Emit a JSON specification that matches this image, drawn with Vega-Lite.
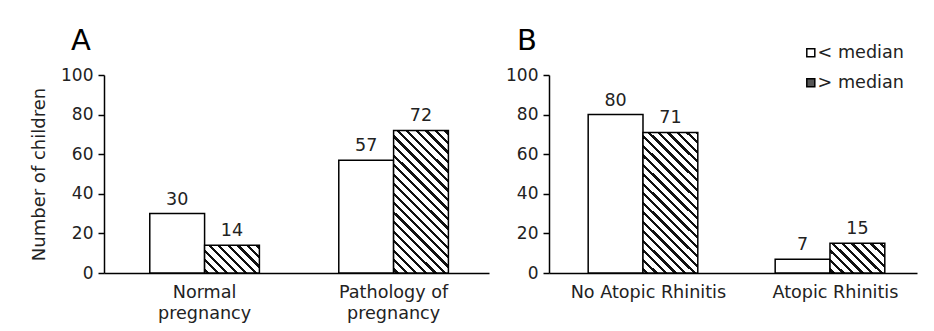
{
  "$schema": "https://vega.github.io/schema/vega-lite/v6.json",
  "background": "white",
  "padding": {"left": 30, "top": 27, "right": 5, "bottom": 5},
  "datasets": {
    "counts": [
      {"panel": "A", "category": "Normal pregnancy", "group": "< median", "n": 30},
      {"panel": "A", "category": "Normal pregnancy", "group": "> median", "n": 14},
      {"panel": "A", "category": "Pathology of pregnancy", "group": "< median", "n": 57},
      {"panel": "A", "category": "Pathology of pregnancy", "group": "> median", "n": 72},
      {"panel": "B", "category": "No Atopic Rhinitis", "group": "< median", "n": 80},
      {"panel": "B", "category": "No Atopic Rhinitis", "group": "> median", "n": 71},
      {"panel": "B", "category": "Atopic Rhinitis", "group": "< median", "n": 7},
      {"panel": "B", "category": "Atopic Rhinitis", "group": "> median", "n": 15}
    ]
  },
  "config": {
    "font": "DejaVu Sans",
    "view": {"stroke": null},
    "axis": {
      "domainColor": "black", "domainWidth": 1.5,
      "tickColor": "black", "tickWidth": 1.5, "tickSize": 6,
      "labelFontSize": 17, "labelColor": "#222", "labelPadding": 5,
      "grid": false,
      "titleFontSize": 18, "titleFontWeight": "normal", "titleColor": "#222", "titlePadding": 12
    },
    "axisX": {"ticks": false, "labelPadding": 10, "labelLineHeight": 21, "labelAngle": 0, "labelFontSize": 17.6},
    "legend": {
      "title": null, "orient": "none", "legendX": 698, "legendY": -31,
      "symbolType": "square", "symbolSize": 64, "symbolStrokeColor": "black", "symbolStrokeWidth": 1.5,
      "labelFontSize": 17.6, "labelColor": "#222", "labelOffset": -2, "rowPadding": 11, "padding": 0
    },
    "title": {"fontSize": 29, "fontWeight": "normal", "anchor": "start", "frame": "group", "dx": -33, "color": "black", "offset": 10}
  },
  "spacing": 16,
  "hconcat": [
    {
      "width": 385,
      "height": 198,
      "title": {"text": "A"},
      "data": {"name": "counts"},
      "transform": [{"filter": "datum.panel === 'A'"}],
      "encoding": {
        "x": {"field": "category", "type": "nominal", "sort": ["Normal pregnancy", "Pathology of pregnancy"],
              "scale": {"paddingInner": 0.42, "paddingOuter": 0.2285, "align": 0.53},
              "axis": {"title": null, "labelExpr": "[slice(datum.label, 0, lastindexof(datum.label, ' ')), slice(datum.label, lastindexof(datum.label, ' ') + 1)]"}},
        "xOffset": {"field": "group", "type": "nominal", "sort": ["< median", "> median"]},
        "y": {"field": "n", "type": "quantitative", "scale": {"domain": [0, 100]},
              "axis": {"title": "Number of children", "values": [0, 20, 40, 60, 80, 100]}}
      },
      "layer": [
        {
          "mark": {"type": "bar", "stroke": "black", "strokeWidth": 1.5},
          "encoding": {
            "fill": {
              "value": "white",
              "condition": [
                {"test": "datum.group === '> median' && datum.category === 'Normal pregnancy'",
                 "value": {"gradient": "linear", "x1": 0, "y1": 1, "x2": 1.1991, "y2": 0.3935, "stops": [
                  {"offset": 0, "color": "#fff"},
                  {"offset": 0.0242, "color": "#fff"}, {"offset": 0.0242, "color": "#111"}, {"offset": 0.0654, "color": "#111"}, {"offset": 0.0654, "color": "#fff"},
                  {"offset": 0.1394, "color": "#fff"}, {"offset": 0.1394, "color": "#111"}, {"offset": 0.1806, "color": "#111"}, {"offset": 0.1806, "color": "#fff"},
                  {"offset": 0.2545, "color": "#fff"}, {"offset": 0.2545, "color": "#111"}, {"offset": 0.2957, "color": "#111"}, {"offset": 0.2957, "color": "#fff"},
                  {"offset": 0.3696, "color": "#fff"}, {"offset": 0.3696, "color": "#111"}, {"offset": 0.4108, "color": "#111"}, {"offset": 0.4108, "color": "#fff"},
                  {"offset": 0.4847, "color": "#fff"}, {"offset": 0.4847, "color": "#111"}, {"offset": 0.5259, "color": "#111"}, {"offset": 0.5259, "color": "#fff"},
                  {"offset": 0.5999, "color": "#fff"}, {"offset": 0.5999, "color": "#111"}, {"offset": 0.6411, "color": "#111"}, {"offset": 0.6411, "color": "#fff"},
                  {"offset": 0.7150, "color": "#fff"}, {"offset": 0.7150, "color": "#111"}, {"offset": 0.7562, "color": "#111"}, {"offset": 0.7562, "color": "#fff"},
                  {"offset": 0.8301, "color": "#fff"}, {"offset": 0.8301, "color": "#111"}, {"offset": 0.8713, "color": "#111"}, {"offset": 0.8713, "color": "#fff"},
                  {"offset": 0.9452, "color": "#fff"}, {"offset": 0.9452, "color": "#111"}, {"offset": 0.9864, "color": "#111"}, {"offset": 0.9864, "color": "#fff"},
                  {"offset": 1, "color": "#fff"}
                 ]}},
                {"test": "datum.group === '> median'",
                 "value": {"gradient": "linear", "x1": 0, "y1": 1, "x2": 0.46366, "y2": -0.2062, "stops": [
                  {"offset": 0, "color": "#fff"},
                  {"offset": 0.0101, "color": "#fff"}, {"offset": 0.0101, "color": "#111"}, {"offset": 0.0274, "color": "#111"}, {"offset": 0.0274, "color": "#fff"},
                  {"offset": 0.0583, "color": "#fff"}, {"offset": 0.0583, "color": "#111"}, {"offset": 0.0755, "color": "#111"}, {"offset": 0.0755, "color": "#fff"},
                  {"offset": 0.1064, "color": "#fff"}, {"offset": 0.1064, "color": "#111"}, {"offset": 0.1236, "color": "#111"}, {"offset": 0.1236, "color": "#fff"},
                  {"offset": 0.1545, "color": "#fff"}, {"offset": 0.1545, "color": "#111"}, {"offset": 0.1718, "color": "#111"}, {"offset": 0.1718, "color": "#fff"},
                  {"offset": 0.2027, "color": "#fff"}, {"offset": 0.2027, "color": "#111"}, {"offset": 0.2199, "color": "#111"}, {"offset": 0.2199, "color": "#fff"},
                  {"offset": 0.2508, "color": "#fff"}, {"offset": 0.2508, "color": "#111"}, {"offset": 0.2680, "color": "#111"}, {"offset": 0.2680, "color": "#fff"},
                  {"offset": 0.2990, "color": "#fff"}, {"offset": 0.2990, "color": "#111"}, {"offset": 0.3162, "color": "#111"}, {"offset": 0.3162, "color": "#fff"},
                  {"offset": 0.3471, "color": "#fff"}, {"offset": 0.3471, "color": "#111"}, {"offset": 0.3643, "color": "#111"}, {"offset": 0.3643, "color": "#fff"},
                  {"offset": 0.3952, "color": "#fff"}, {"offset": 0.3952, "color": "#111"}, {"offset": 0.4124, "color": "#111"}, {"offset": 0.4124, "color": "#fff"},
                  {"offset": 0.4434, "color": "#fff"}, {"offset": 0.4434, "color": "#111"}, {"offset": 0.4606, "color": "#111"}, {"offset": 0.4606, "color": "#fff"},
                  {"offset": 0.4915, "color": "#fff"}, {"offset": 0.4915, "color": "#111"}, {"offset": 0.5087, "color": "#111"}, {"offset": 0.5087, "color": "#fff"},
                  {"offset": 0.5396, "color": "#fff"}, {"offset": 0.5396, "color": "#111"}, {"offset": 0.5568, "color": "#111"}, {"offset": 0.5568, "color": "#fff"},
                  {"offset": 0.5878, "color": "#fff"}, {"offset": 0.5878, "color": "#111"}, {"offset": 0.6050, "color": "#111"}, {"offset": 0.6050, "color": "#fff"},
                  {"offset": 0.6359, "color": "#fff"}, {"offset": 0.6359, "color": "#111"}, {"offset": 0.6531, "color": "#111"}, {"offset": 0.6531, "color": "#fff"},
                  {"offset": 0.6840, "color": "#fff"}, {"offset": 0.6840, "color": "#111"}, {"offset": 0.7013, "color": "#111"}, {"offset": 0.7013, "color": "#fff"},
                  {"offset": 0.7322, "color": "#fff"}, {"offset": 0.7322, "color": "#111"}, {"offset": 0.7494, "color": "#111"}, {"offset": 0.7494, "color": "#fff"},
                  {"offset": 0.7803, "color": "#fff"}, {"offset": 0.7803, "color": "#111"}, {"offset": 0.7975, "color": "#111"}, {"offset": 0.7975, "color": "#fff"},
                  {"offset": 0.8284, "color": "#fff"}, {"offset": 0.8284, "color": "#111"}, {"offset": 0.8457, "color": "#111"}, {"offset": 0.8457, "color": "#fff"},
                  {"offset": 0.8766, "color": "#fff"}, {"offset": 0.8766, "color": "#111"}, {"offset": 0.8938, "color": "#111"}, {"offset": 0.8938, "color": "#fff"},
                  {"offset": 0.9247, "color": "#fff"}, {"offset": 0.9247, "color": "#111"}, {"offset": 0.9419, "color": "#111"}, {"offset": 0.9419, "color": "#fff"},
                  {"offset": 0.9728, "color": "#fff"}, {"offset": 0.9728, "color": "#111"}, {"offset": 0.9901, "color": "#111"}, {"offset": 0.9901, "color": "#fff"},
                  {"offset": 1, "color": "#fff"}
                 ]}}
              ]
            }
          }
        },
        {
          "mark": {"type": "text", "baseline": "alphabetic", "dy": -9, "fontSize": 17.5, "color": "#222"},
          "encoding": {"text": {"field": "n", "type": "quantitative"}}
        }
      ]
    },
    {
      "width": 368,
      "height": 198,
      "title": {"text": "B", "dx": -32},
      "data": {"name": "counts"},
      "transform": [{"filter": "datum.panel === 'B'"}],
      "encoding": {
        "x": {"field": "category", "type": "nominal", "sort": ["No Atopic Rhinitis", "Atopic Rhinitis"],
              "scale": {"paddingInner": 0.42, "paddingOuter": 0.194, "align": 0.54},
              "axis": {"title": null, "labelOffset": 6}},
        "xOffset": {"field": "group", "type": "nominal", "sort": ["< median", "> median"]},
        "y": {"field": "n", "type": "quantitative", "scale": {"domain": [0, 100]},
              "axis": {"title": null, "values": [0, 20, 40, 60, 80, 100]}}
      },
      "layer": [
        {
          "mark": {"type": "bar", "strokeWidth": 1.5},
          "encoding": {
            "stroke": {
              "field": "group", "type": "nominal",
              "scale": {"domain": ["< median", "> median"], "range": ["black", "black"]}
            },
            "fill": {
              "field": "group", "type": "nominal",
              "scale": {"domain": ["< median", "> median"], "range": ["white", "#555"]},
              "condition": [
                {"test": "datum.group === '> median' && datum.category === 'No Atopic Rhinitis'",
                 "value": {"gradient": "linear", "x1": 0, "y1": 1, "x2": 0.46506, "y2": -0.20625, "stops": [
                  {"offset": 0, "color": "#fff"},
                  {"offset": 0.0103, "color": "#fff"}, {"offset": 0.0103, "color": "#111"}, {"offset": 0.0277, "color": "#111"}, {"offset": 0.0277, "color": "#fff"},
                  {"offset": 0.0590, "color": "#fff"}, {"offset": 0.0590, "color": "#111"}, {"offset": 0.0765, "color": "#111"}, {"offset": 0.0765, "color": "#fff"},
                  {"offset": 0.1078, "color": "#fff"}, {"offset": 0.1078, "color": "#111"}, {"offset": 0.1253, "color": "#111"}, {"offset": 0.1253, "color": "#fff"},
                  {"offset": 0.1566, "color": "#fff"}, {"offset": 0.1566, "color": "#111"}, {"offset": 0.1740, "color": "#111"}, {"offset": 0.1740, "color": "#fff"},
                  {"offset": 0.2054, "color": "#fff"}, {"offset": 0.2054, "color": "#111"}, {"offset": 0.2228, "color": "#111"}, {"offset": 0.2228, "color": "#fff"},
                  {"offset": 0.2541, "color": "#fff"}, {"offset": 0.2541, "color": "#111"}, {"offset": 0.2716, "color": "#111"}, {"offset": 0.2716, "color": "#fff"},
                  {"offset": 0.3029, "color": "#fff"}, {"offset": 0.3029, "color": "#111"}, {"offset": 0.3204, "color": "#111"}, {"offset": 0.3204, "color": "#fff"},
                  {"offset": 0.3517, "color": "#fff"}, {"offset": 0.3517, "color": "#111"}, {"offset": 0.3691, "color": "#111"}, {"offset": 0.3691, "color": "#fff"},
                  {"offset": 0.4005, "color": "#fff"}, {"offset": 0.4005, "color": "#111"}, {"offset": 0.4179, "color": "#111"}, {"offset": 0.4179, "color": "#fff"},
                  {"offset": 0.4492, "color": "#fff"}, {"offset": 0.4492, "color": "#111"}, {"offset": 0.4667, "color": "#111"}, {"offset": 0.4667, "color": "#fff"},
                  {"offset": 0.4980, "color": "#fff"}, {"offset": 0.4980, "color": "#111"}, {"offset": 0.5155, "color": "#111"}, {"offset": 0.5155, "color": "#fff"},
                  {"offset": 0.5468, "color": "#fff"}, {"offset": 0.5468, "color": "#111"}, {"offset": 0.5642, "color": "#111"}, {"offset": 0.5642, "color": "#fff"},
                  {"offset": 0.5955, "color": "#fff"}, {"offset": 0.5955, "color": "#111"}, {"offset": 0.6130, "color": "#111"}, {"offset": 0.6130, "color": "#fff"},
                  {"offset": 0.6443, "color": "#fff"}, {"offset": 0.6443, "color": "#111"}, {"offset": 0.6618, "color": "#111"}, {"offset": 0.6618, "color": "#fff"},
                  {"offset": 0.6931, "color": "#fff"}, {"offset": 0.6931, "color": "#111"}, {"offset": 0.7105, "color": "#111"}, {"offset": 0.7105, "color": "#fff"},
                  {"offset": 0.7419, "color": "#fff"}, {"offset": 0.7419, "color": "#111"}, {"offset": 0.7593, "color": "#111"}, {"offset": 0.7593, "color": "#fff"},
                  {"offset": 0.7906, "color": "#fff"}, {"offset": 0.7906, "color": "#111"}, {"offset": 0.8081, "color": "#111"}, {"offset": 0.8081, "color": "#fff"},
                  {"offset": 0.8394, "color": "#fff"}, {"offset": 0.8394, "color": "#111"}, {"offset": 0.8569, "color": "#111"}, {"offset": 0.8569, "color": "#fff"},
                  {"offset": 0.8882, "color": "#fff"}, {"offset": 0.8882, "color": "#111"}, {"offset": 0.9056, "color": "#111"}, {"offset": 0.9056, "color": "#fff"},
                  {"offset": 0.9370, "color": "#fff"}, {"offset": 0.9370, "color": "#111"}, {"offset": 0.9544, "color": "#111"}, {"offset": 0.9544, "color": "#fff"},
                  {"offset": 0.9857, "color": "#fff"}, {"offset": 0.9857, "color": "#111"}, {"offset": 1, "color": "#111"}
                 ]}},
                {"test": "datum.group === '> median'",
                 "value": {"gradient": "linear", "x1": 0, "y1": 1, "x2": 1.1905, "y2": 0.34764, "stops": [
                  {"offset": 0, "color": "#fff"},
                  {"offset": 0.0238, "color": "#fff"}, {"offset": 0.0238, "color": "#111"}, {"offset": 0.0644, "color": "#111"}, {"offset": 0.0644, "color": "#fff"},
                  {"offset": 0.1371, "color": "#fff"}, {"offset": 0.1371, "color": "#111"}, {"offset": 0.1776, "color": "#111"}, {"offset": 0.1776, "color": "#fff"},
                  {"offset": 0.2503, "color": "#fff"}, {"offset": 0.2503, "color": "#111"}, {"offset": 0.2908, "color": "#111"}, {"offset": 0.2908, "color": "#fff"},
                  {"offset": 0.3635, "color": "#fff"}, {"offset": 0.3635, "color": "#111"}, {"offset": 0.4041, "color": "#111"}, {"offset": 0.4041, "color": "#fff"},
                  {"offset": 0.4768, "color": "#fff"}, {"offset": 0.4768, "color": "#111"}, {"offset": 0.5173, "color": "#111"}, {"offset": 0.5173, "color": "#fff"},
                  {"offset": 0.5900, "color": "#fff"}, {"offset": 0.5900, "color": "#111"}, {"offset": 0.6305, "color": "#111"}, {"offset": 0.6305, "color": "#fff"},
                  {"offset": 0.7032, "color": "#fff"}, {"offset": 0.7032, "color": "#111"}, {"offset": 0.7437, "color": "#111"}, {"offset": 0.7437, "color": "#fff"},
                  {"offset": 0.8165, "color": "#fff"}, {"offset": 0.8165, "color": "#111"}, {"offset": 0.8570, "color": "#111"}, {"offset": 0.8570, "color": "#fff"},
                  {"offset": 0.9297, "color": "#fff"}, {"offset": 0.9297, "color": "#111"}, {"offset": 0.9702, "color": "#111"}, {"offset": 0.9702, "color": "#fff"},
                  {"offset": 1, "color": "#fff"}
                 ]}}
              ]
            }
          }
        },
        {
          "mark": {"type": "text", "baseline": "alphabetic", "dy": -9, "fontSize": 17.5, "color": "#222"},
          "encoding": {"text": {"field": "n", "type": "quantitative"}}
        }
      ]
    }
  ]
}
